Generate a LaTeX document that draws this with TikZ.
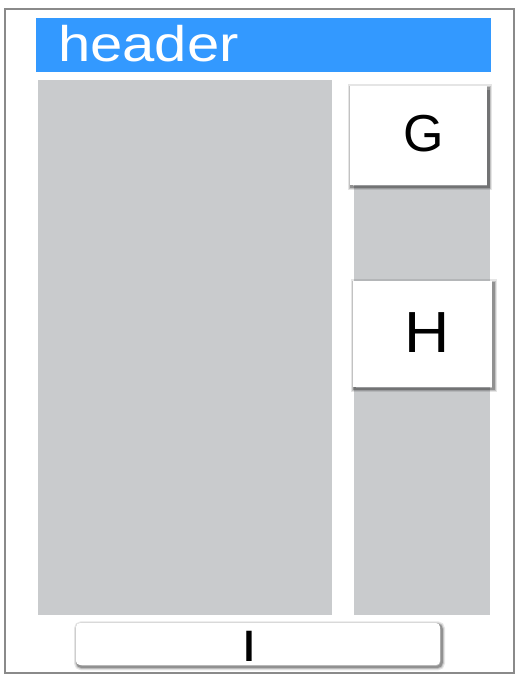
\documentclass[tikz,border=0pt]{standalone}
\usepackage{fontspec}
\setmainfont{Liberation Sans}
\definecolor{hdrblue}{HTML}{3399FF}
\definecolor{panelgray}{HTML}{C9CBCD}
\definecolor{framegray}{HTML}{8A8A8A}
\tikzset{
  card/.style={draw=none, fill=white,
    preaction={draw=black, draw opacity=0.10, line width=7pt, transform canvas={shift={(1.5pt,-1.8pt)}}},
    preaction={draw=black, draw opacity=0.15, line width=4.5pt, transform canvas={shift={(1.5pt,-1.8pt)}}},
    preaction={draw=black, draw opacity=0.25, line width=2.5pt, transform canvas={shift={(1.5pt,-1.8pt)}}}},
}
\begin{document}
\begin{tikzpicture}[x=1pt,y=-1pt]
\useasboundingbox (0,0) rectangle (516,675);
\fill[white] (0,0) rectangle (516,675);
% outer frame
\draw[framegray, line width=1.4pt] (5,9) rectangle (514,673);
% header
\fill[hdrblue] (36,18) rectangle (491,72);
\node[anchor=base west, text=white, font=\fontsize{50}{50}\selectfont, inner sep=0pt, xscale=1.16] (hdr) at (58,61) {header};
% panels
\fill[panelgray] (38,80) rectangle (332,615);
\fill[panelgray] (354,90) rectangle (490,615);
% cards
\path[card] (350,86) rectangle (487,185);
\node[font=\fontsize{52}{52}\selectfont, inner sep=0pt] (G) at (424,134) {G};
\path[card] (353,281) rectangle (492,387);
\node[font=\fontsize{58}{58}\selectfont, inner sep=0pt, xscale=1.08] (H) at (427,333) {H};
\path[card, rounded corners=4pt] (76,623) rectangle (440,665);
\node[font=\fontsize{44}{44}\selectfont, inner sep=0pt, xscale=1.3] (I) at (249,646) {I};
\end{tikzpicture}
\end{document}
